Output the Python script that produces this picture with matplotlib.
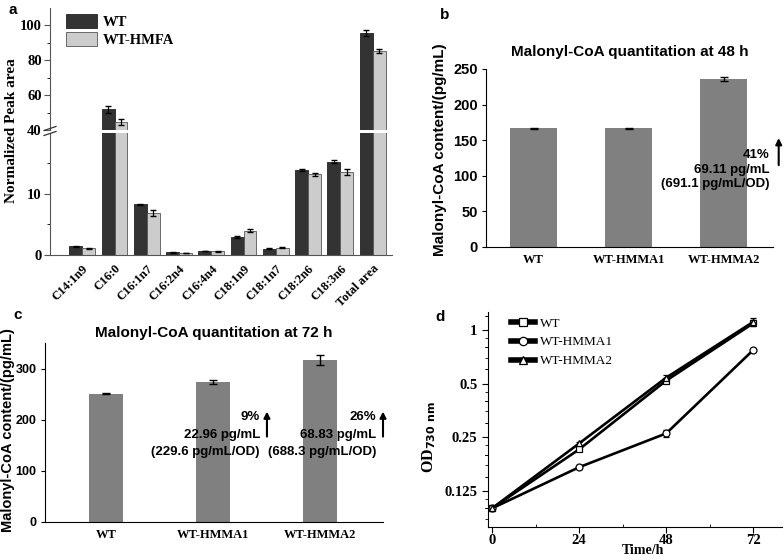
import matplotlib
matplotlib.use("Agg")
import matplotlib.pyplot as plt
from matplotlib.lines import Line2D
import numpy as np

# panel a data
fatty_acids = ["C14:1n9", "C16:0", "C16:1n7", "C16:2n4", "C16:4n4",
               "C18:1n9", "C18:1n7", "C18:2n6", "C18:3n6", "Total area"]
wt_area = [1.4, 51.8, 8.3, 0.45, 0.65, 3.0, 1.05, 14.0, 15.3, 95.6]
wt_area_err = [0.15, 2.0, 0.1, 0.05, 0.05, 0.15, 0.05, 0.15, 0.2, 1.5]
hmfa_area = [1.1, 44.6, 6.9, 0.35, 0.6, 4.0, 1.2, 13.2, 13.6, 85.3]
hmfa_area_err = [0.05, 1.5, 0.45, 0.05, 0.1, 0.3, 0.1, 0.2, 0.5, 1.0]

# panels b, c data
strains = ["WT", "WT-HMMA1", "WT-HMMA2"]
malonyl_48h = [167.0, 166.5, 236.0]
malonyl_48h_err = [0.8, 0.8, 2.5]
malonyl_72h = [251.0, 274.0, 317.0]
malonyl_72h_err = [1.5, 4.0, 10.0]
notes_48h = [None, None, ("41%", "69.11 pg/mL", "(691.1 pg/mL/OD)")]
notes_72h = [None, ("9%", "22.96 pg/mL", "(229.6 pg/mL/OD)"),
             ("26%", "68.83 pg/mL", "(688.3 pg/mL/OD)")]

# panel d data
time_h = [0, 24, 48, 72]
od_wt = [0.100, 0.214, 0.52, 1.09]
od_wt_err = [0.002, 0.004, 0.015, 0.04]
od_hmma1 = [0.100, 0.170, 0.263, 0.772]
od_hmma1_err = [0.002, 0.003, 0.012, 0.01]
od_hmma2 = [0.100, 0.231, 0.54, 1.11]
od_hmma2_err = [0.002, 0.005, 0.02, 0.05]

SERIF = "Liberation Serif"
SANS = "Liberation Sans"
W, H = 784, 560


def px(l, t, r, b):
    return [l / W, 1 - b / H, (r - l) / W, (b - t) / H]


fig = plt.figure(figsize=(7.84, 5.6), dpi=100)

# ---------------- panel a (broken axis) ----------------
ax_lo = fig.add_axes(px(50, 133, 392, 255))
ax_hi = fig.add_axes(px(50, 8, 392, 130))
x = np.arange(len(fatty_acids))
for ax in (ax_lo, ax_hi):
    ax.bar(x - 0.2, wt_area, 0.4, color="#333333", edgecolor="#222222", lw=0.6,
           yerr=wt_area_err, capsize=2.5, error_kw=dict(lw=0.9), label="WT")
    ax.bar(x + 0.2, hmfa_area, 0.4, color="#cccccc", edgecolor="#555555", lw=0.6,
           yerr=hmfa_area_err, capsize=2.5, error_kw=dict(lw=0.9), label="WT-HMFA")
    ax.set_xlim(-1.0, 9.6)
    for s in ("top", "right"):
        ax.spines[s].set_visible(False)
    ax.spines["left"].set_color("#555555")
    ax.spines["bottom"].set_color("#555555")
    ax.minorticks_on()
    ax.tick_params(axis="x", which="both", bottom=False)
    ax.tick_params(axis="y", labelsize=10.5, length=4, color="#555555", pad=2)
    ax.tick_params(axis="y", which="minor", length=2.5)

ax_lo.set_ylim(0, 20)
ax_lo.set_yticks([0, 10])
ax_lo.set_yticks([5, 15], minor=True)
ax_lo.set_xticks(x)
ax_lo.set_xticklabels(fatty_acids, rotation=45, ha="right", rotation_mode="anchor",
                      family=SERIF, weight="bold", fontsize=9)
ax_lo.tick_params(axis="x", pad=2)
ax_hi.set_ylim(40, 110)
ax_hi.set_yticks([40, 60, 80, 100])
ax_hi.set_yticks([50, 70, 90], minor=True)
ax_hi.spines["bottom"].set_visible(False)
ax_hi.set_xticks([])
for ax in (ax_lo, ax_hi):
    for t in ax.get_yticklabels():
        t.set_family(SERIF)
        t.set_weight("bold")
# break marks
for dy in (-2.5, 2.5):
    fig.add_artist(Line2D([44 / W, 56 / W], [1 - (131 + dy + 2) / H, 1 - (131 + dy - 2) / H],
                          color="#333333", lw=0.9))
ax_hi.legend(loc="upper left", bbox_to_anchor=(0.03, 1.0), borderaxespad=0,
             frameon=False, prop=dict(family=SERIF, weight="bold", size=10.5),
             handlelength=2.1, handleheight=1.1, labelspacing=0.2, handletextpad=0.45)
fig.text(12 / W, 1 - 131 / H, "Normalized Peak area", rotation=90, ha="center",
         va="center", family=SERIF, weight="bold", fontsize=11)
fig.text(13 / W, 1 - 10 / H, "a", family=SANS, weight="bold", fontsize=11,
         ha="center", va="center")


def malonyl_panel(rect, values, errs, notes, ylim, yticks, ytick_size, width, xlim,
                  title, title_y, ylabel_xy, ylabel_size, label, label_xy,
                  note_dx, arrow_dx, note_ys, arrow_span):
    ax = fig.add_axes(px(*rect))
    pos = np.arange(len(strains))
    ax.bar(pos, values, width, color="#808080", yerr=errs, capsize=3,
           error_kw=dict(lw=1.0))
    ax.set_xlim(*xlim)
    ax.set_ylim(*ylim)
    ax.set_yticks(yticks)
    ax.set_xticks(pos)
    ax.set_xticklabels(strains, family=SERIF, weight="bold", fontsize=9)
    for t in ax.get_yticklabels():
        t.set_family(SANS)
        t.set_weight("bold")
        t.set_fontsize(ytick_size)
    for s in ("top", "right"):
        ax.spines[s].set_visible(False)
    ax.tick_params(axis="x", length=0, pad=5)
    ax.tick_params(axis="y", length=3, pad=3)
    ax.text(0.5, title_y, title, transform=ax.transAxes, ha="center", va="center",
            family=SANS, weight="bold", fontsize=11)
    fig.text(ylabel_xy[0] / W, 1 - ylabel_xy[1] / H, "Malonyl-CoA content/(pg/mL)",
             rotation=90, ha="center", va="center", family=SANS, weight="bold",
             fontsize=ylabel_size)
    for i, note in enumerate(notes):
        if note is None:
            continue
        for line, yv in zip(note, note_ys):
            ax.text(i + note_dx[i], yv, line, ha="right", va="center", family=SANS,
                    weight="bold", fontsize=9.5, clip_on=False)
        ax.annotate("", xy=(i + arrow_dx[i], arrow_span[1]),
                    xytext=(i + arrow_dx[i], arrow_span[0]),
                    arrowprops=dict(arrowstyle="-|>", lw=1.5, color="k",
                                    mutation_scale=9, shrinkA=0, shrinkB=0),
                    annotation_clip=False)
    fig.text(label_xy[0] / W, 1 - label_xy[1] / H, label, family=SANS, weight="bold",
             fontsize=11, ha="center", va="center")
    return ax


malonyl_panel((486, 69, 773, 247), malonyl_48h, malonyl_48h_err, notes_48h,
              (0, 250), [0, 50, 100, 150, 200, 250], 10.5, 0.5, (-0.5, 2.52),
              "Malonyl-CoA quantitation at 48 h", 1.096, (440, 150), 11,
              "b", (445, 15),
              [0, 0, 0.48], [0, 0, 0.58], (129, 108, 88), (115, 153))
malonyl_panel((45, 343, 383, 522), malonyl_72h, malonyl_72h_err, notes_72h,
              (0, 350), [0, 100, 200, 300], 9, 0.32, (-0.57, 2.59),
              "Malonyl-CoA quantitation at 72 h", 1.056, (8, 430), 10.5,
              "c", (18, 315),
              [0, 0.44, 0.53], [0, 0.505, 0.59], (206, 171, 137), (167, 216))

# ---------------- panel d ----------------
axd = fig.add_axes(px(488, 312, 782, 527))
series = [(od_wt, od_wt_err, "s", "WT"),
          (od_hmma1, od_hmma1_err, "o", "WT-HMMA1"),
          (od_hmma2, od_hmma2_err, "^", "WT-HMMA2")]
handles = []
for vals, errs, mk, name in series:
    axd.errorbar(time_h, vals, yerr=errs, color="k", lw=1.9, marker=mk, ms=5,
                 mfc="white", mec="k", mew=0.9, capsize=2.5, elinewidth=0.9)
    handles.append(Line2D([], [], color="k", lw=4, marker=mk, ms=6, mfc="white",
                          mec="k", mew=0.9, label=name))
axd.set_yscale("log", base=2)
axd.set_ylim(0.0786, 1.26)
axd.set_xlim(-1.1, 79.9)
axd.set_yticks([0.125, 0.25, 0.5, 1])
axd.set_yticklabels(["0.125", "0.25", "0.5", "1"])
axd.set_xticks(time_h)
axd.set_xticks([12, 36, 60], minor=True)
axd.yaxis.set_minor_locator(matplotlib.ticker.LogLocator(base=2, subs=np.arange(0.1, 1.0, 0.1)))
axd.yaxis.set_minor_formatter(matplotlib.ticker.NullFormatter())
for s in ("top", "right"):
    axd.spines[s].set_visible(False)
axd.tick_params(labelsize=10.5, length=4)
axd.tick_params(axis="x", pad=1)
axd.tick_params(which="minor", length=2)
axd.tick_params(axis="x", which="minor", direction="in")
for t in axd.get_xticklabels() + axd.get_yticklabels():
    t.set_family(SERIF)
    t.set_weight("bold")
fig.text(643 / W, 1 - 550 / H, "Time/h", family=SERIF, weight="bold", fontsize=10,
         ha="center", va="center")
axd.set_ylabel(r"OD$_{\mathbf{730\ nm}}$", family=SERIF, weight="bold", fontsize=11.5)
axd.yaxis.set_label_coords(-0.17, 0.42)
axd.legend(handles=handles, loc="upper left", bbox_to_anchor=(0.06, 1.0),
           borderaxespad=0, frameon=False, prop=dict(family=SERIF, size=9.5),
           handlelength=1.8, labelspacing=0.5, handletextpad=0.4)
fig.text(440 / W, 1 - 317 / H, "d", family=SANS, weight="bold", fontsize=11,
         ha="center", va="center")

fig.savefig("out.png", dpi=100)
